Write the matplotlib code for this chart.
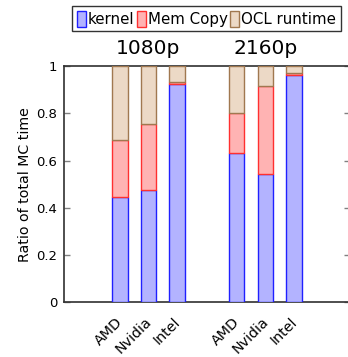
import matplotlib
matplotlib.use("Agg")
import matplotlib.pyplot as plt
import matplotlib.transforms as mtransforms
import numpy as np
from matplotlib.patches import Patch

devices = ["AMD", "Nvidia", "Intel", "AMD", "Nvidia", "Intel"]
groups = ["1080p", "2160p"]
kernel = [0.445, 0.475, 0.924, 0.633, 0.545, 0.962]
memcopy = [0.243, 0.280, 0.009, 0.170, 0.369, 0.007]
ocl = [1 - k - m for k, m in zip(kernel, memcopy)]
positions = [0, 1, 2, 4.1, 5.1, 6.1]

plt.rcParams['font.family'] = ['DejaVu Sans']

fig = plt.figure(figsize=(3.48, 3.57), dpi=100)
ax = fig.add_axes([64/348, 1 - 302.3/357, (350 - 64)/348, (302.3 - 66)/357])

w = 0.54
kc = dict(fc='#b3b3ff', ec='#2020ff')
mc = dict(fc='#ffb3b3', ec='#ff3030')
oc = dict(fc='#ecd9c6', ec='#a07850')
ax.bar(positions, kernel, w, lw=1.0, zorder=3, **kc)
ax.bar(positions, memcopy, w, bottom=kernel, lw=1.0, zorder=3, **mc)
ax.bar(positions, ocl, w, bottom=[k + m for k, m in zip(kernel, memcopy)], lw=1.0, zorder=3, **oc)

ax.set_xlim(-1.96, 8.07)
ax.set_ylim(0, 1)
ax.set_yticks([0, 0.2, 0.4, 0.6, 0.8, 1])
ax.set_yticklabels(["0", "0.2", "0.4", "0.6", "0.8", "1"], fontsize=9.5)
ax.tick_params(axis='y', direction='in', length=4, color='#808080', width=1, right=True, pad=5)
ax.set_xticks(positions)
ax.set_xticklabels(devices, rotation=45, ha='right', va='top', rotation_mode='anchor', fontsize=10.3)
ax.tick_params(axis='x', length=0, pad=9)
offset = mtransforms.ScaledTranslation(-4/100, 0, fig.dpi_scale_trans)
for lbl in ax.get_xticklabels():
    lbl.set_transform(lbl.get_transform() + offset)
for s in ax.spines.values():
    s.set_color('#303030')
    s.set_linewidth(1.2)
ax.set_ylabel("Ratio of total MC time", fontsize=10.2, labelpad=3)

for i, g in enumerate(groups):
    ax.text(positions[3*i + 1], 1.035, g, fontsize=14.5, ha='center', va='bottom', transform=ax.get_xaxis_transform())

handles = [Patch(label="kernel", **kc), Patch(label="Mem Copy", **mc), Patch(label="OCL runtime", **oc)]
fig.legend(handles=handles, loc='upper center', bbox_to_anchor=(206.5/348, 1 - 6/357), ncol=3,
           fontsize=10.8, handlelength=0.6, handleheight=1.3, handletextpad=0.15, columnspacing=0.15,
           frameon=True, fancybox=False, edgecolor='black', borderpad=0.3, borderaxespad=0)

fig.savefig("out.png", dpi=100)
